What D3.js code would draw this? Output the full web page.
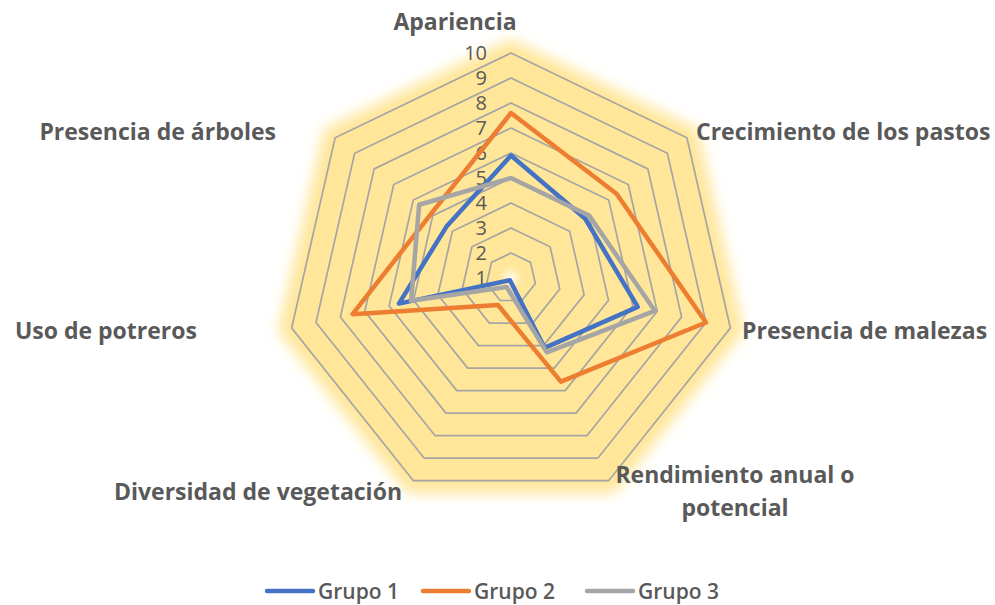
<!DOCTYPE html>
<html>
<head>
<meta charset="utf-8">
<script src="https://cdn.jsdelivr.net/npm/d3@7"></script>
<style>
  body { margin: 0; background: #fff; }
  svg text { font-family: "Open Sans", "Noto Sans", sans-serif; fill: #595959; }
</style>
</head>
<body>
<div id="viz"></div>
<script>
// chart data
const categories = ["Apariencia", "Crecimiento de los pastos", "Presencia de malezas",
  "Rendimiento anual o potencial", "Diversidad de vegetación", "Uso de potreros", "Presencia de árboles"];
const seriesNames = ["Grupo 1", "Grupo 2", "Grupo 3"];
const grupo1 = [5.9, 4.8, 6.2, 4.1, 1.1, 5.6, 4.3];
const grupo2 = [7.6, 6.4, 9.0, 5.6, 2.2, 7.5, 5.1];
const grupo3 = [5.0, 5.0, 6.9, 4.3, 1.4, 5.1, 5.7];
const ticks = [1, 2, 3, 4, 5, 6, 7, 8, 9, 10];

// layout (not data)
const width = 995, height = 605,
    cx = 511, cy = 278, R = 225;
const colors = ["#4472C4", "#ED7D31", "#A5A5A5"];
// label placement per category: [x, y, anchor]
const labelPos = [
  [455, 30, "middle"], [696, 140, "start"], [742, 339, "start"],
  [735, 483, "middle"], [402, 500, "end"], [197, 339, "end"], [276, 140, "end"]
];

const svg = d3.select("#viz").append("svg")
    .attr("width", width)
    .attr("height", height);

const defs = svg.append("defs");
defs.append("filter").attr("id", "glow")
    .attr("x", "-20%").attr("y", "-20%").attr("width", "140%").attr("height", "140%")
  .append("feGaussianBlur").attr("stdDeviation", 7);
const rg = defs.append("radialGradient").attr("id", "spot");
rg.append("stop").attr("offset", "0%").attr("stop-color", "#fff").attr("stop-opacity", 1);
rg.append("stop").attr("offset", "100%").attr("stop-color", "#FFE699").attr("stop-opacity", 0);

const r = d3.scaleLinear().domain([1, 10]).range([0, R]);
const ang = d3.scaleLinear().domain([0, categories.length]).range([0, 2 * Math.PI]);

const g = svg.append("g").attr("transform", `translate(${cx},${cy})`);

const ring = v => d3.lineRadial()
    .angle((d, i) => ang(i))
    .radius(() => r(v))
    .curve(d3.curveLinearClosed)(categories);

// glow + fill
g.append("path").attr("d", ring(10.55)).attr("fill", "#FFE699").attr("filter", "url(#glow)");
g.append("path").attr("d", ring(10)).attr("fill", "#FFE699");
g.append("circle").attr("r", 16).attr("fill", "url(#spot)");

// grid rings
g.selectAll(".ring").data(ticks.slice(1)).enter()
  .append("path").attr("class", "ring")
    .attr("d", d => ring(d))
    .attr("fill", "none")
    .attr("stroke", "#A5A5A5")
    .attr("stroke-width", 1.7);

// tick labels
g.selectAll(".tick").data(ticks).enter()
  .append("text").attr("class", "tick")
    .attr("x", -24)
    .attr("y", d => -r(d))
    .attr("dy", "0.36em")
    .attr("text-anchor", "end")
    .style("font-size", "20px")
    .text(d => d);

// series
const line = d3.lineRadial()
    .angle((d, i) => ang(i))
    .radius(d => r(d))
    .curve(d3.curveLinearClosed);

[grupo1, grupo2, grupo3].forEach((s, i) => {
  g.append("path")
    .attr("d", line(s))
    .attr("fill", "none")
    .attr("stroke", colors[i])
    .attr("stroke-width", 4.5)
    .attr("stroke-linejoin", "round");
});

// category labels
categories.forEach((c, i) => {
  const p = labelPos[i];
  const t = svg.append("text")
    .attr("x", p[0]).attr("y", p[1])
    .attr("text-anchor", p[2])
    .style("font-size", "23px")
    .style("font-weight", 700);
  if (c === "Rendimiento anual o potencial") {
    t.append("tspan").attr("x", p[0]).text("Rendimiento anual o");
    t.append("tspan").attr("x", p[0]).attr("dy", 33).text("potencial");
  } else {
    t.text(c);
  }
});

// legend
const legX = [267, 423, 587];
const leg = svg.append("g");
seriesNames.forEach((n, i) => {
  leg.append("line")
    .attr("x1", legX[i]).attr("x2", legX[i] + 46)
    .attr("y1", 591).attr("y2", 591)
    .attr("stroke", colors[i]).attr("stroke-width", 4.5)
    .attr("stroke-linecap", "round");
  leg.append("text")
    .attr("x", legX[i] + 51).attr("y", 599)
    .style("font-size", "21px")
    .style("font-weight", 600)
    .text(n);
});
</script>
</body>
</html>
